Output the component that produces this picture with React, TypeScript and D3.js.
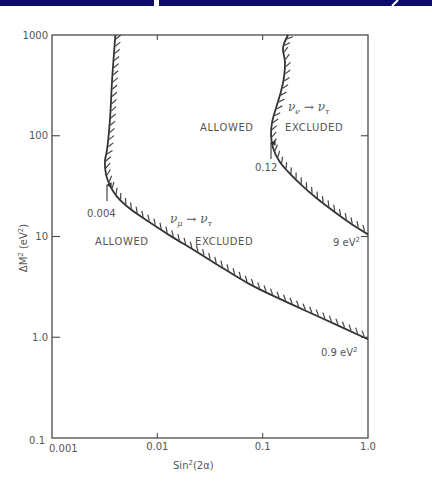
import React, { useEffect, useRef } from "react";
import * as d3 from "d3";

// nu_mu -> nu_tau exclusion boundary (sin^2 2a, dM^2)
const muX = [0.0040, 0.00372, 0.00355, 0.00333, 0.00318, 0.00326, 0.00355, 0.00414, 0.00504, 0.00655, 0.00851, 0.0132, 0.0218, 0.0368, 0.0759, 0.156, 0.350, 1.0];
const muY = [1000, 358, 144, 72.7, 55.3, 41.1, 32, 24.9, 20.3, 16.5, 13.8, 10.2, 7.43, 5.28, 3.35, 2.32, 1.58, 0.955];
// nu_e -> nu_tau exclusion boundary
const eX = [0.174, 0.156, 0.163, 0.1595, 0.149, 0.134, 0.1226, 0.120, 0.1253, 0.143, 0.174, 0.226, 0.328, 0.475, 0.690, 1.0];
const eY = [1000, 743, 540, 384, 273, 189, 134.5, 102, 76, 56.5, 44, 33.5, 23.8, 17.7, 13.4, 10.5];

const yTicks = [0.1, 1, 10, 100, 1000];
const yTickLabels = ["0.1", "1.0", "10", "100", "1000"];
const xTicks = [0.001, 0.01, 0.1, 1];
const xTickLabels = ["0.001", "0.01", "0.1", "1.0"];

const W = 432;
const H = 486;
const INK = "#333";
const TXT = "#555";
const FONT = "'DejaVu Sans', Verdana, sans-serif";

export default function App() {
  const muRef = useRef<SVGPathElement | null>(null);
  const eRef = useRef<SVGPathElement | null>(null);
  const hatchRef = useRef<SVGGElement | null>(null);

  const x = d3.scaleLog().domain([0.001, 1]).range([52, 368]);
  const y = d3.scaleLog().domain([0.1, 1000]).range([438, 35]);

  const line = d3
    .line<[number, number]>()
    .x((d) => x(d[0]))
    .y((d) => y(d[1]))
    .curve(d3.curveCatmullRom.alpha(0.5));

  const muPath = line(muX.map((v, i) => [v, muY[i]] as [number, number])) || "";
  const ePath = line(eX.map((v, i) => [v, eY[i]] as [number, number])) || "";

  useEffect(() => {
    const g = d3.select(hatchRef.current);
    g.selectAll("*").remove();
    const theta = (40 * Math.PI) / 180;
    const len = 7;
    [muRef.current, eRef.current].forEach((p) => {
      if (!p) return;
      const total = p.getTotalLength();
      for (let l = 4; l < total - 2; l += 7.2) {
        const a = p.getPointAtLength(Math.max(0, l - 1.5));
        const b = p.getPointAtLength(Math.min(total, l + 1.5));
        const c = p.getPointAtLength(l);
        let tx = b.x - a.x;
        let ty = b.y - a.y;
        const n = Math.hypot(tx, ty) || 1;
        tx /= n;
        ty /= n;
        const nx = ty;
        const ny = -tx;
        const hx = Math.cos(theta) * nx - Math.sin(theta) * tx;
        const hy = Math.cos(theta) * ny - Math.sin(theta) * ty;
        g.append("line")
          .attr("x1", c.x + nx * 0.8)
          .attr("y1", c.y + ny * 0.8)
          .attr("x2", c.x + hx * len)
          .attr("y2", c.y + hy * len)
          .attr("stroke", "#444")
          .attr("stroke-width", 1.2);
      }
    });
  }, []);

  const [x0, x1] = x.range();
  const [yb, yt] = y.range();

  return (
    <svg
      width={W}
      height={H}
      style={{ position: "absolute", left: 0, top: 0, background: "#fff" }}
      fontFamily={FONT}
    >
      <defs>
        <marker id="arr" viewBox="0 0 6 6" refX="3" refY="1" markerWidth="5" markerHeight="6" orient="auto-start-reverse">
          <path d="M0,6 L3,0 L6,6 Z" fill={INK} />
        </marker>
      </defs>
      {/* header band */}
      <rect x={0} y={0} width={154} height={6} fill="#0b0b6b" />
      <rect x={159} y={0} width={W - 159} height={6} fill="#0b0b6b" />
      <line x1={392} y1={6} x2={398} y2={0} stroke="#fff" strokeWidth={2} />

      {/* frame */}
      <rect x={x0} y={yt} width={x1 - x0} height={yb - yt} fill="none" stroke="#4a4a4a" strokeWidth={1.3} />

      {/* y ticks */}
      {yTicks.map((t, i) => (
        <g key={"y" + i}>
          {t > 0.1 && t < 1000 && (
            <>
              <line x1={x0} x2={x0 + 8} y1={y(t)} y2={y(t)} stroke="#4a4a4a" strokeWidth={1.1} />
              <line x1={x1} x2={x1 - 7} y1={y(t)} y2={y(t)} stroke="#4a4a4a" strokeWidth={1.1} />
            </>
          )}
          <text
            x={t === 0.1 ? 45 : 48}
            y={t === 0.1 ? y(t) + 2 : y(t)}
            dy="0.35em"
            textAnchor="end"
            fontSize={10}
            fill={TXT}
          >
            {yTickLabels[i]}
          </text>
        </g>
      ))}

      {/* x ticks */}
      {xTicks.map((t, i) => (
        <g key={"x" + i}>
          {t > 0.001 && t < 1 && (
            <>
              <line x1={x(t)} x2={x(t)} y1={yb} y2={yb - 5} stroke="#4a4a4a" strokeWidth={1.1} />
              <line x1={x(t)} x2={x(t)} y1={yt} y2={yt + 5} stroke="#4a4a4a" strokeWidth={1.1} />
            </>
          )}
          <text
            x={t === 0.001 ? 49 : x(t)}
            y={t === 0.001 ? 452 : 450}
            textAnchor={t === 0.001 ? "start" : "middle"}
            fontSize={10}
            fill={TXT}
          >
            {xTickLabels[i]}
          </text>
        </g>
      ))}

      {/* axis titles */}
      <text x={173} y={469} fontSize={10} fill={TXT}>
        Sin<tspan dy={-4} fontSize={7}>2</tspan>
        <tspan dy={4}>(2α)</tspan>
      </text>
      <text transform="translate(27,248) rotate(-90)" textAnchor="middle" fontSize={10} fill={TXT}>
        ΔM<tspan dy={-4} fontSize={7}>2</tspan>
        <tspan dy={4}> (eV</tspan>
        <tspan dy={-4} fontSize={7}>2</tspan>
        <tspan dy={4}>)</tspan>
      </text>

      {/* curves */}
      <path ref={muRef} d={muPath} fill="none" stroke={INK} strokeWidth={1.8} />
      <path ref={eRef} d={ePath} fill="none" stroke={INK} strokeWidth={1.8} />
      <g ref={hatchRef} />

      {/* arrows */}
      <line x1={107} y1={201} x2={107} y2={185} stroke={INK} strokeWidth={1.1} markerEnd="url(#arr)" />
      <line x1={271} y1={159} x2={271} y2={143} stroke={INK} strokeWidth={1.1} markerEnd="url(#arr)" />

      {/* annotations */}
      <text x={87} y={217} fontSize={10} fill={TXT}>0.004</text>
      <text x={255} y={171} fontSize={10} fill={TXT}>0.12</text>
      <text x={95} y={245} fontSize={10} fill={TXT} letterSpacing={0.6}>ALLOWED</text>
      <text x={195} y={245} fontSize={10} fill={TXT} letterSpacing={0.6}>EXCLUDED</text>
      <text x={170} y={223} fontSize={12} fill={TXT} fontStyle="italic" fontFamily="'DejaVu Serif', serif">
        ν<tspan dy={3} fontSize={8}>μ</tspan>
        <tspan dy={-3}> → ν</tspan>
        <tspan dy={3} fontSize={8}>τ</tspan>
      </text>
      <text x={200} y={131} fontSize={10} fill={TXT} letterSpacing={0.6}>ALLOWED</text>
      <text x={285} y={131} fontSize={10} fill={TXT} letterSpacing={0.6}>EXCLUDED</text>
      <text x={288} y={111} fontSize={12} fill={TXT} fontStyle="italic" fontFamily="'DejaVu Serif', serif">
        ν<tspan dy={3} fontSize={8}>e</tspan>
        <tspan dy={-3}> → ν</tspan>
        <tspan dy={3} fontSize={8}>τ</tspan>
      </text>
      <text x={333} y={246} fontSize={10} fill={TXT}>
        9 eV<tspan dy={-4} fontSize={7}>2</tspan>
      </text>
      <text x={321} y={356} fontSize={10} fill={TXT}>
        0.9 eV<tspan dy={-4} fontSize={7}>2</tspan>
      </text>
    </svg>
  );
}
